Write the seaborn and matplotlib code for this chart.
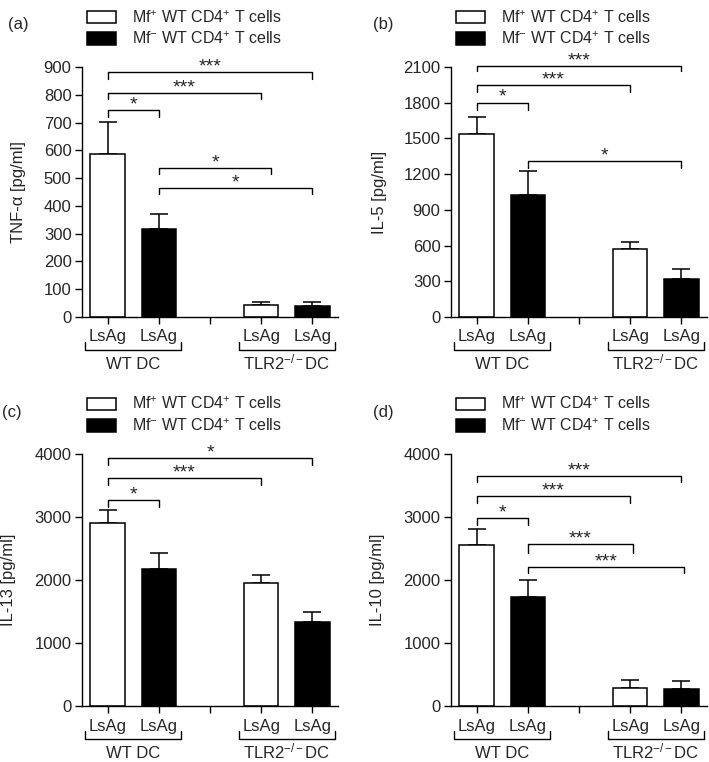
import matplotlib
matplotlib.use('Agg')
import matplotlib.pyplot as plt
import seaborn as sns
import pandas as pd
from matplotlib.patches import Patch

sns.set_style('ticks')
plt.rcParams['font.family'] = ['Liberation Sans', 'DejaVu Sans']
plt.rcParams['mathtext.fontset'] = 'custom'
plt.rcParams['mathtext.rm'] = 'Liberation Sans'
plt.rcParams['mathtext.it'] = 'Liberation Sans:italic'

# bar positions 1,2 = WT DC ; 4,5 = TLR2-/- DC
positions = [1, 2, 4, 5]
cells = ['Mf+', 'Mf-', 'Mf+', 'Mf-']
tick_labels = ['LsAg', 'LsAg', '', 'LsAg', 'LsAg']
groups = ['WT DC', 'TLR2$^{-/-}$DC']
legend_labels = ['Mf$^{+}$ WT CD4$^{+}$ T cells', 'Mf$^{-}$ WT CD4$^{+}$ T cells']

tnf_mean = [588, 318, 45, 38]
tnf_err = [114, 54, 9, 16]
il5_mean = [1535, 1025, 572, 320]
il5_err = [145, 200, 58, 85]
il13_mean = [2905, 2175, 1960, 1335]
il13_err = [205, 255, 120, 155]
il10_mean = [2555, 1725, 290, 270]
il10_err = [255, 275, 125, 130]

# significance brackets: (x1, x2, y, drop, label)
tnf_sig = [(1, 5, 882, 25, '***'), (1, 4, 806, 21, '***'), (1, 2, 745, 25, '*'),
           (2, 4.2, 536, 22, '*'), (2, 5, 464, 22, '*')]
il5_sig = [(1, 5, 2108, 42, '***'), (1, 4, 1949, 59, '***'), (1, 2, 1798, 59, '*'),
           (2, 5, 1310, 58, '*')]
il13_sig = [(1, 5, 3937, 112, '*'), (1, 4, 3619, 111, '***'), (1, 2, 3270, 111, '*')]
il10_sig = [(1, 5, 3650, 94, '***'), (1, 4, 3333, 111, '***'), (1, 2, 2984, 111, '*'),
            (2, 4.05, 2571, 142, '***'), (2, 5.05, 2206, 95, '***')]

panels = [
    ('(a)', 'TNF-α [pg/ml]', tnf_mean, tnf_err, tnf_sig, 900, 100),
    ('(b)', 'IL-5 [pg/ml]', il5_mean, il5_err, il5_sig, 2100, 300),
    ('(c)', 'IL-13 [pg/ml]', il13_mean, il13_err, il13_sig, 4000, 1000),
    ('(d)', 'IL-10 [pg/ml]', il10_mean, il10_err, il10_sig, 4000, 1000),
]

fig = plt.figure(figsize=(7.09, 7.62), dpi=100)
W, H = 709, 762
boxes = [(82, 67, 256, 250), (451, 67, 256, 250), (82, 454, 256, 252), (451, 454, 256, 252)]
label_pos = [(18, 25), (383, 25), (12, 412), (383, 412)]
ylab_x = [26, 387, 16, 385]

fs = 12
for (tag, ylab, mean, err, sig, ymax, step), (bx, by, bw, bh), (lx, ly), yx in zip(
        panels, boxes, label_pos, ylab_x):
    ax = fig.add_axes([bx / W, 1 - (by + bh) / H, bw / W, bh / H])
    df = pd.DataFrame({'pos': positions, 'value': mean, 'cell': cells})
    sns.barplot(data=df, x='pos', y='value', hue='cell', native_scale=True, dodge=False,
                palette={'Mf+': 'white', 'Mf-': 'black'}, edgecolor='black', linewidth=1.1,
                width=0.67, legend=False, ax=ax, zorder=2)
    ax.errorbar(positions, mean, yerr=[[0] * 4, err], fmt='none', ecolor='black',
                elinewidth=1.1, capsize=6.5, capthick=1.1, zorder=1)
    ax.set_xlim(0.5, 5.5)
    ax.set_ylim(0, ymax)
    ax.set_yticks(range(0, ymax + 1, step))
    ax.set_xticks([1, 2, 3, 4, 5])
    ax.set_xticklabels(tick_labels)
    ax.tick_params(axis='both', labelsize=fs, width=1.0, length=5, color='black', pad=2.5)
    ax.tick_params(axis='x', pad=4)
    ax.set_xlabel('')
    ax.set_ylabel(ylab, fontsize=fs)
    ax.yaxis.set_label_coords((yx - bx) / bw, 0.5)
    for s in ['left', 'bottom']:
        ax.spines[s].set_linewidth(1.0)
        ax.spines[s].set_color('black')
    sns.despine(ax=ax)

    for x1, x2, y, drop, lab in sig:
        ax.plot([x1, x1, x2, x2], [y - drop, y, y, y - drop], color='black', lw=1.0, clip_on=False)
        ax.text((x1 + x2) / 2, y - ymax * 0.012, lab, ha='center', va='bottom', fontsize=14)

    tr = ax.get_xaxis_transform()
    for (x1, x2), g in zip([(0.56, 2.44), (3.56, 5.44)], groups):
        ax.plot([x1, x1, x2, x2], [-25 / bh, -33 / bh, -33 / bh, -25 / bh], transform=tr,
                color='black', lw=1.0, clip_on=False)
        ax.text((x1 + x2) / 2, -52 / bh, g, transform=tr, ha='center', va='baseline', fontsize=fs)

    handles = [Patch(facecolor='white', edgecolor='black', linewidth=1.1),
               Patch(facecolor='black', edgecolor='black', linewidth=1.1)]
    ax.legend(handles=handles, labels=legend_labels, loc='lower left',
              bbox_to_anchor=(0.02, 1.08), frameon=False, fontsize=11.5, borderpad=0,
              borderaxespad=0, handlelength=1.8, handleheight=0.85, handletextpad=1.0,
              labelspacing=0.3)

    fig.text(lx / W, 1 - ly / H, tag, ha='center', va='center', fontsize=fs)

fig.savefig('out.png', dpi=100)
